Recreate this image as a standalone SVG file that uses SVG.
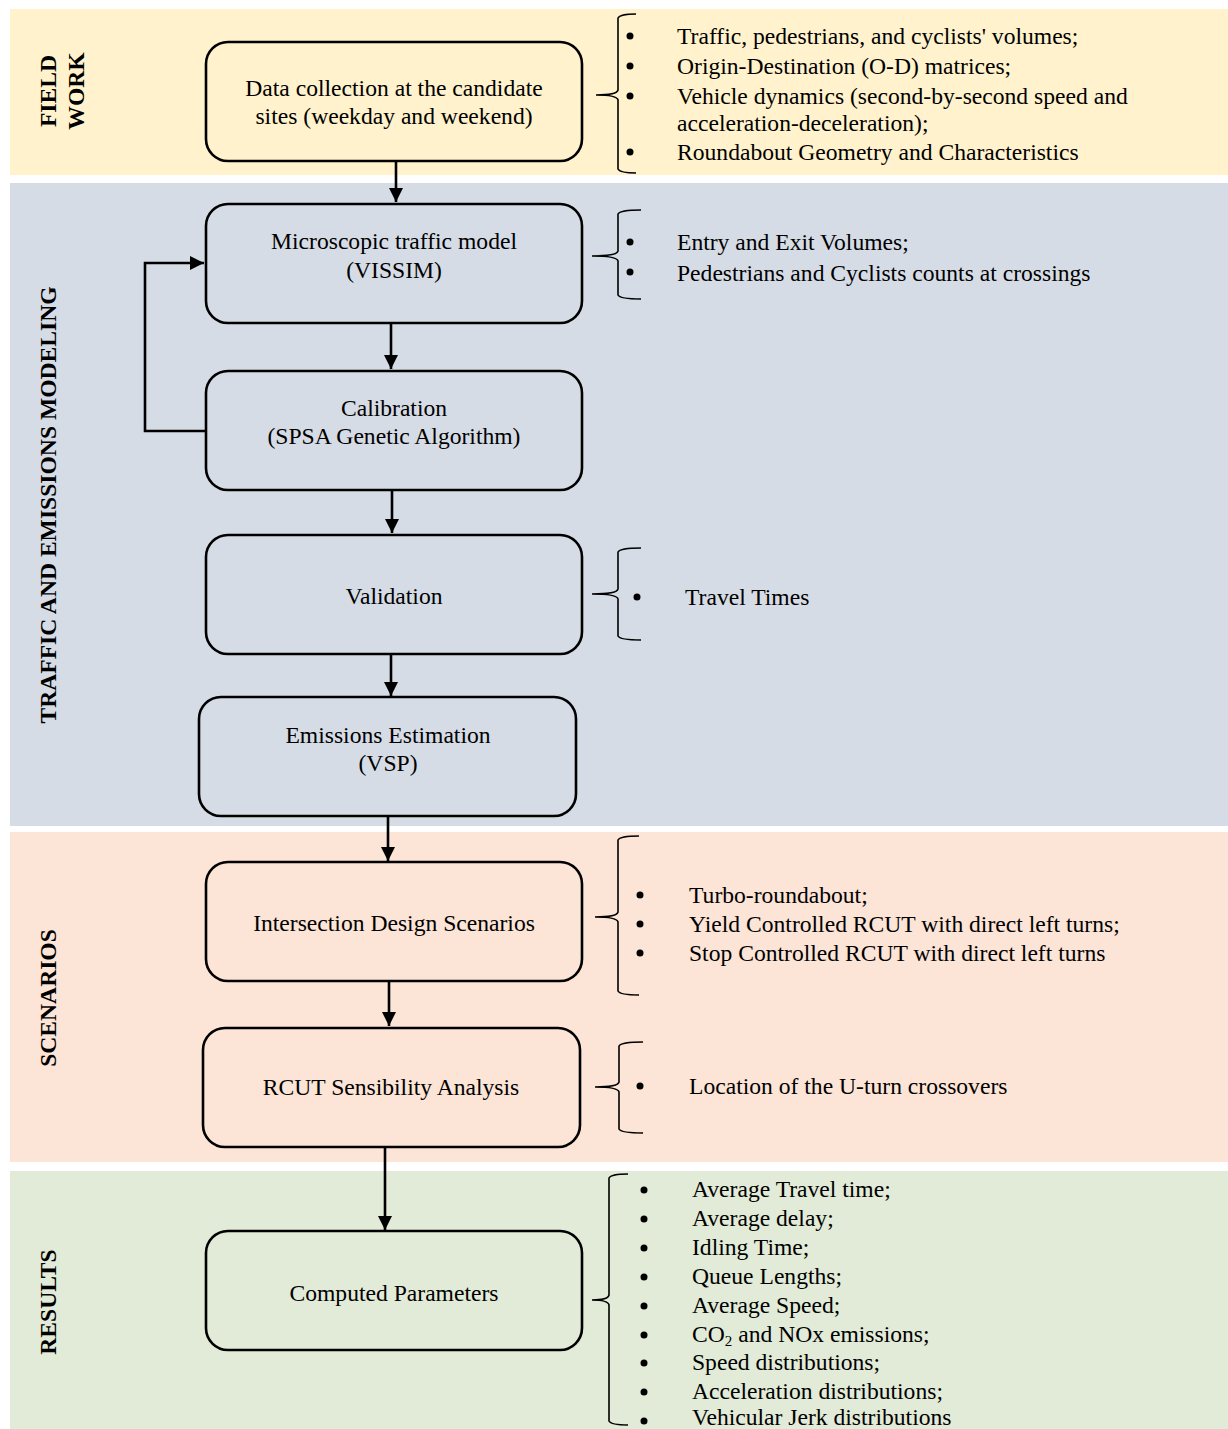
<svg xmlns="http://www.w3.org/2000/svg" width="1228" height="1429" viewBox="0 0 1228 1429">
<style>
text{font-family:"Liberation Serif","Times New Roman",serif;font-size:23.6px;fill:#000}
.lbl{font-weight:bold;text-anchor:middle}
.c{text-anchor:middle}
.box{stroke:#000;stroke-width:2.6}
.edge{stroke:#000;stroke-width:2.6;fill:none}
.br{stroke:#000;stroke-width:1.6;fill:none}
</style>
<defs>
<marker id="ah" viewBox="0 0 10 10" refX="10" refY="5" markerWidth="5.5" markerHeight="5.5" orient="auto" markerUnits="strokeWidth">
<path d="M0,0 L10,5 L0,10 z" fill="#000"/>
</marker>
</defs>
<rect width="1228" height="1429" fill="#fff"/>
<g id="bands">
<rect x="10" y="9" width="1218" height="166" fill="#FFF2CC"/>
<rect x="10" y="183" width="1218" height="643" fill="#D6DCE5"/>
<rect x="10" y="832" width="1218" height="330" fill="#FCE4D6"/>
<rect x="10" y="1171" width="1218" height="258" fill="#E2EBD7"/>
<text class="lbl" transform="translate(56,91) rotate(-90)">FIELD</text>
<text class="lbl" transform="translate(84,91) rotate(-90)">WORK</text>
<text class="lbl" transform="translate(56,505) rotate(-90)">TRAFFIC AND EMISSIONS MODELING</text>
<text class="lbl" transform="translate(56,998) rotate(-90)">SCENARIOS</text>
<text class="lbl" transform="translate(56,1302) rotate(-90)">RESULTS</text>
</g>
<g id="connectors">
<line class="edge" x1="396" y1="157" x2="396" y2="202" marker-end="url(#ah)"/>
<line class="edge" x1="391" y1="323" x2="391" y2="369" marker-end="url(#ah)"/>
<line class="edge" x1="392" y1="490" x2="392" y2="533" marker-end="url(#ah)"/>
<line class="edge" x1="391" y1="654" x2="391" y2="696" marker-end="url(#ah)"/>
<line class="edge" x1="388" y1="816" x2="388" y2="861" marker-end="url(#ah)"/>
<line class="edge" x1="389" y1="981" x2="389" y2="1026" marker-end="url(#ah)"/>
<line class="edge" x1="385" y1="1147" x2="385" y2="1230" marker-end="url(#ah)"/>
<polyline class="edge" points="206,431 145,431 145,263 204,263" marker-end="url(#ah)"/>
</g>
<g id="n1"><rect class="box" x="206" y="42" width="376" height="119" rx="22" fill="#FFF2CC"/>
<text class="c" x="394" y="96">Data collection at the candidate</text>
<text class="c" x="394" y="124">sites (weekday and weekend)</text></g>
<g id="n2"><rect class="box" x="206" y="204" width="376" height="119" rx="22" fill="#D6DCE5"/>
<text class="c" x="394" y="249">Microscopic traffic model</text>
<text class="c" x="394" y="278">(VISSIM)</text></g>
<g id="n3"><rect class="box" x="206" y="371" width="376" height="119" rx="22" fill="#D6DCE5"/>
<text class="c" x="394" y="416">Calibration</text>
<text class="c" x="394" y="444">(SPSA Genetic Algorithm)</text></g>
<g id="n4"><rect class="box" x="206" y="535" width="376" height="119" rx="22" fill="#D6DCE5"/>
<text class="c" x="394" y="604">Validation</text></g>
<g id="n5"><rect class="box" x="199" y="697" width="377" height="119" rx="22" fill="#D6DCE5"/>
<text class="c" x="388" y="743">Emissions Estimation</text>
<text class="c" x="388" y="771">(VSP)</text></g>
<g id="n6"><rect class="box" x="206" y="862" width="376" height="119" rx="22" fill="#FCE4D6"/>
<text class="c" x="394" y="931">Intersection Design Scenarios</text></g>
<g id="n7"><rect class="box" x="203" y="1028" width="377" height="119" rx="22" fill="#FCE4D6"/>
<text class="c" x="391" y="1095">RCUT Sensibility Analysis</text></g>
<g id="n8"><rect class="box" x="206" y="1231" width="376" height="119" rx="22" fill="#E2EBD7"/>
<text class="c" x="394" y="1301">Computed Parameters</text></g>
<g id="list1">
<path class="br" d="M636,14 Q620,14 618,18 L618,90 Q617,95 596,95 Q617,95 618,100 L618,169 Q620,173 636,173"/>
<circle cx="630" cy="36" r="3.5"/><circle cx="630" cy="66" r="3.5"/><circle cx="630" cy="96" r="3.5"/><circle cx="630" cy="152" r="3.5"/>
<text x="677" y="44">Traffic, pedestrians, and cyclists' volumes;</text>
<text x="677" y="74">Origin-Destination (O-D) matrices;</text>
<text x="677" y="104">Vehicle dynamics (second-by-second speed and</text>
<text x="677" y="131">acceleration-deceleration);</text>
<text x="677" y="160">Roundabout Geometry and Characteristics</text>
</g>
<g id="list2">
<path class="br" d="M641,210 Q620,210 618,214 L618,251 Q617,256 592,256 Q617,256 618,261 L618,295 Q620,299 641,299"/>
<circle cx="630" cy="242" r="3.5"/><circle cx="630" cy="272" r="3.5"/>
<text x="677" y="250">Entry and Exit Volumes;</text>
<text x="677" y="281">Pedestrians and Cyclists counts at crossings</text>
</g>
<g id="list3">
<path class="br" d="M641,548 Q620,548 618,552 L618,589 Q617,594 592,594 Q617,594 618,599 L618,636 Q620,640 641,640"/>
<circle cx="637" cy="597" r="3.5"/>
<text x="685" y="605">Travel Times</text>
</g>
<g id="list4">
<path class="br" d="M639,836 Q620,836 618,840 L618,912 Q617,917 595,917 Q617,917 618,922 L618,991 Q620,995 639,995"/>
<circle cx="640" cy="895" r="3.5"/><circle cx="640" cy="924" r="3.5"/><circle cx="640" cy="953" r="3.5"/>
<text x="689" y="903">Turbo-roundabout;</text>
<text x="689" y="932">Yield Controlled RCUT with direct left turns;</text>
<text x="689" y="961">Stop Controlled RCUT with direct left turns</text>
</g>
<g id="list5">
<path class="br" d="M643,1042 Q621,1042 619,1046 L619,1082 Q618,1087 595,1087 Q618,1087 619,1092 L619,1129 Q621,1133 643,1133"/>
<circle cx="640" cy="1086" r="3.5"/>
<text x="689" y="1094">Location of the U-turn crossovers</text>
</g>
<g id="list6">
<path class="br" d="M628,1174 Q611,1174 609,1178 L609,1295 Q608,1300 592,1300 Q608,1300 609,1305 L609,1421 Q611,1425 628,1425"/>
<circle cx="644" cy="1190" r="3.5"/><circle cx="644" cy="1219" r="3.5"/><circle cx="644" cy="1248" r="3.5"/><circle cx="644" cy="1277" r="3.5"/><circle cx="644" cy="1306" r="3.5"/><circle cx="644" cy="1335" r="3.5"/><circle cx="644" cy="1363" r="3.5"/><circle cx="644" cy="1392" r="3.5"/><circle cx="644" cy="1421" r="3.5"/>
<text x="692" y="1197">Average Travel time;</text>
<text x="692" y="1226">Average delay;</text>
<text x="692" y="1255">Idling Time;</text>
<text x="692" y="1284">Queue Lengths;</text>
<text x="692" y="1313">Average Speed;</text>
<text x="692" y="1342">CO<tspan font-size="15" dy="4">2</tspan><tspan dy="-4"> and NOx emissions;</tspan></text>
<text x="692" y="1370">Speed distributions;</text>
<text x="692" y="1399">Acceleration distributions;</text>
<text x="692" y="1425">Vehicular Jerk distributions</text>
</g>
</svg>
